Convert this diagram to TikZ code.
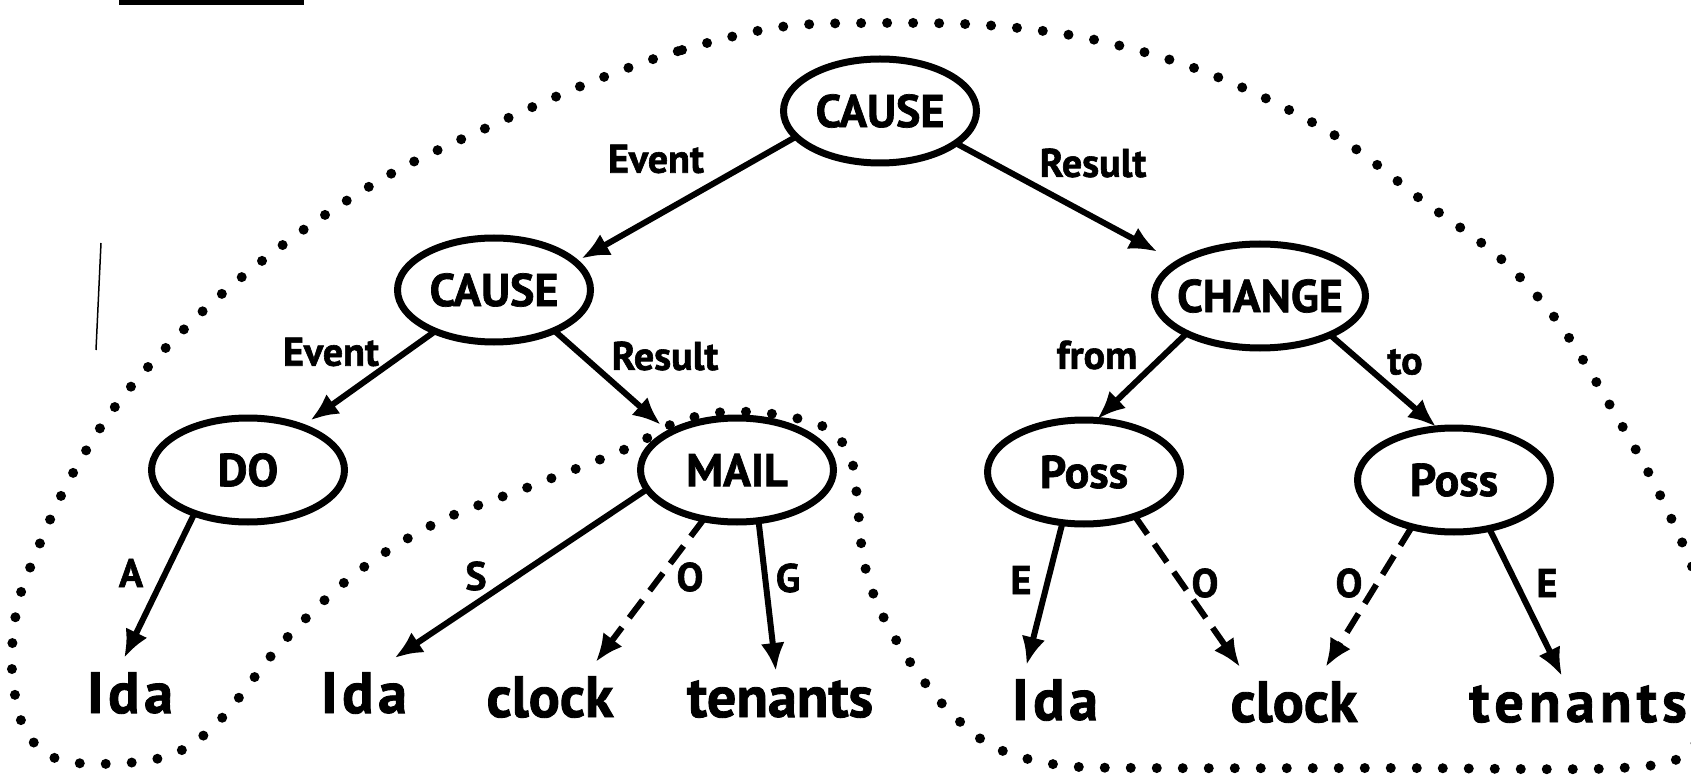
\documentclass[tikz,border=0pt]{standalone}
\usepackage{fontspec}
\setmainfont{PT Sans}[BoldFeatures={FakeBold=1.5}]
\usetikzlibrary{arrows.meta,shapes.geometric}
\tikzset{
    concept/.style={ellipse, draw, line width=7pt, minimum width=193pt, minimum height=104pt,
        inner xsep=-20pt, inner ysep=0pt, outer sep=0pt, font=\fontsize{46}{50}\selectfont\bfseries},
    wide concept/.style={concept, minimum width=211pt},
    leaf/.style={anchor=base, inner sep=0pt, outer sep=0pt, text height=55pt, text depth=0pt,
        font=\fontsize{58}{64}\selectfont\bfseries},
    short leaf/.style={leaf, text height=46pt},
    role/.style={inner sep=0pt, font=\fontsize{40}{44}\selectfont\bfseries},
    link/.style={->, line width=6pt},
    hidden link/.style={link, dash pattern=on 22pt off 12pt},
    border dots/.style={line width=10pt, line cap=round, dash pattern=on 0pt off 26pt},
    >={Latex[length=28pt,width=24pt]}
}

\begin{document}
\begin{tikzpicture}[x=1pt, y=-1pt]
    \useasboundingbox (0,0) rectangle (1691,775);
    \clip (0,0) rectangle (1691,775);
    \fill[white] (0,0) rectangle (1691,775);

    % scan marks
    \fill (119,0) rectangle (304,5);
    \draw[line width=1.5pt] (101,243) -- (96,350);

    % dotted boundary
    \draw[border dots] plot[smooth cycle, tension=0.55] coordinates {
        (591,82) (682,50) (780,27) (874,23) (984,25) (1081,37) (1177,62) (1263,97)
        (1347,143) (1423,201) (1500,258) (1558,322) (1611,407) (1660,495) (1700,590)
        (1712,680) (1690,750) (1620,768) (1400,768) (1150,768) (1059,765) (994,747)
        (948,710) (910,662) (880,610) (864,562) (858,510) (852,462) (830,430) (780,415)
        (724,412) (675,423) (628,448) (534,485) (438,522) (356,573) (283,642) (222,718)
        (178,752) (126,763) (60,760) (25,730) (12,670) (17,608) (34,558) (66,486)
        (109,415) (159,355) (224,292) (306,228) (396,171) (495,124)};

    % concepts
    \node[concept] (cause0) at (880,111) {CAUSE};
    \node[concept] (cause1) at (494,290) {CAUSE};
    \node[wide concept] (change) at (1260,296) {CHANGE};
    \node[concept] (do) at (248,470) {DO};
    \node[concept] (mail) at (737,470) {MAIL};
    \node[concept] (possA) at (1084,472) {Poss};
    \node[concept] (possB) at (1454,480) {Poss};

    % leaves
    \node[leaf] (ida1) at (130,713) {\addfontfeature{LetterSpace=8}Ida};
    \node[leaf] (ida2) at (364,713) {\addfontfeature{LetterSpace=8}Ida};
    \node[leaf] (clock1) at (550,717) {clock};
    \node[short leaf] (tenants1) at (780,717) {tenants};
    \node[leaf] (ida3) at (1055,720) {\addfontfeature{LetterSpace=8}Ida};
    \node[leaf] (clock2) at (1294,722) {clock};
    \node[short leaf] (tenants2) at (1578,722) {\addfontfeature{LetterSpace=9}tenants};

    % links
    \draw[link, shorten >=7pt] (cause0.197) -- (cause1.19);
    \draw[link, shorten >=24pt] (cause0.337) -- (change.158);
    \draw[link, shorten >=11pt] (cause1.215) -- (do.39);
    \draw[link, shorten >=12pt] (cause1.326) -- (mail.151);
    \draw[link, shorten >=2pt] (change.207) -- (possA.77);
    \draw[link, shorten >=3pt] (change.331) -- (possB.107);
    \draw[link] (do.219) -- (ida1.102);
    \draw[link] (mail.192) -- (ida2.42);
    \draw[hidden link] (mail.236) -- (clock1.31);
    \draw[link] (mail.293) -- (tenants1.100);
    \draw[link] (possA.247) -- (ida3.136);
    \draw[hidden link] (possA.319) -- (clock2.153);
    \draw[hidden link] (possB.228) -- (clock2.41);
    \draw[link] (possB.306) -- (tenants2.125);

    % role labels
    \node[role] (lblEvent0) at (656,159) {Event};
    \node[role] (lblResult0) at (1093,163) {Result};
    \node[role] (lblEvent1) at (331,352) {Event};
    \node[role] (lblResult1) at (665,356) {Result};
    \node[role] (lblFrom) at (1097,355) {from};
    \node[role] (lblTo) at (1405,362) {to};
    \node[role] (lblA) at (131,573) {A};
    \node[role] (lblS) at (476,576) {S};
    \node[role] (lblO1) at (690,577) {O};
    \node[role] (lblG) at (788,578) {G};
    \node[role] (lblE1) at (1021,580) {E};
    \node[role] (lblO2) at (1205,583) {O};
    \node[role] (lblO3) at (1349,583) {O};
    \node[role] (lblE2) at (1547,583) {E};
\end{tikzpicture}
\end{document}
